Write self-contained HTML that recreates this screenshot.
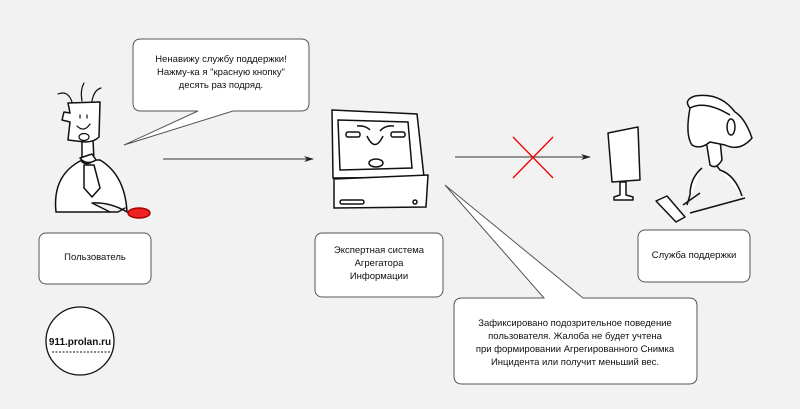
<!DOCTYPE html>
<html><head><meta charset="utf-8"><style>
html,body{margin:0;padding:0;background:#f2f2f2;}
body{width:800px;height:409px;overflow:hidden;position:relative;font-family:"Liberation Sans",sans-serif;}
svg{position:absolute;left:0;top:0;}
text{font-family:"Liberation Sans",sans-serif;font-size:9.5px;fill:#111;text-anchor:middle;}
</style></head><body>
<svg width="800" height="409" viewBox="0 0 800 409">
<defs><marker id="a" markerWidth="10" markerHeight="8" refX="9" refY="4" orient="auto"><path d="M0,1 L10,4 L0,7 L3,4z" fill="#222"/></marker></defs>
<g fill="#fff" stroke="#555" stroke-width="1">
<path d="M141,39 H301 Q309,39 309,47 V103 Q309,111 301,111 H233 L124,145 L198,111 H141 Q133,111 133,103 V47 Q133,39 141,39 Z"/>
<path d="M462,298 H544 L445,185 L583,298 H689 Q697,298 697,306 V376 Q697,384 689,384 H462 Q454,384 454,376 V306 Q454,298 462,298 Z"/>
<rect x="39" y="233" width="112" height="51" rx="7"/>
<rect x="315" y="233" width="128" height="64" rx="7"/>
<rect x="638" y="230" width="112" height="52" rx="7"/>
</g>
<ellipse cx="80" cy="341" rx="34" ry="34" fill="#fff" stroke="#111" stroke-width="1.3"/>
<text x="80" y="345" style="font-size:10px;font-weight:bold">911.prolan.ru</text>
<line x1="52" y1="352" x2="110" y2="352" stroke="#111" stroke-dasharray="2,1.5"/>
<line x1="163" y1="159" x2="313" y2="159" stroke="#333" marker-end="url(#a)"/>
<line x1="455" y1="157" x2="590" y2="157" stroke="#333" marker-end="url(#a)"/>
<line x1="513" y1="137" x2="553" y2="178" stroke="#e00" stroke-width="1.3"/>
<line x1="553" y1="137" x2="513" y2="178" stroke="#e00" stroke-width="1.3"/>
<!-- person -->
<g fill="#fff" stroke="#111" stroke-width="1.5" stroke-linecap="round" stroke-linejoin="round">
<path d="M56,212 Q52,175 82,160 L100,160 Q125,175 127,212 Q110,202 92,203 L110,212 Q80,212 56,212Z"/>
<path d="M82,140 L82,162 Q88,166 94,160 L93,140"/>
<path d="M68,103 L100,102 L99,137 Q94,142 85,142 L68,140 L70,122 L62,120 L64,112 L70,113 Z"/>
<path d="M84,165 L84,188 L92,197 L100,188 L94,165 Z"/>
<path d="M80,158 Q86,166 96,160 L92,154 Z"/>
<ellipse cx="139" cy="213" rx="11" ry="5" fill="#e22" stroke="#a00"/>
<path d="M110,212 L118,212 L125,208" fill="none"/>
</g>
<g fill="none" stroke="#111" stroke-width="1.2" stroke-linecap="round"><path d="M72,102 Q68,90 58,94 M82,101 Q80,90 84,83 M92,101 Q94,90 101,88"/><path d="M77,126 Q84,133 90,124"/><line x1="80" y1="115" x2="80" y2="118"/><line x1="87" y1="115" x2="87" y2="118"/><ellipse cx="84" cy="137" rx="5" ry="3.5"/></g>
<!-- computer -->
<g fill="#fff" stroke="#111" stroke-width="1.5">
<path d="M332,110 L417,114 L424,177 L333,178 Z"/>
<path d="M338,120 L408,122 L412,168 L340,170 Z"/>
<path d="M334,179 L428,175 L426,207 L334,208 Z"/>
<rect x="340" y="200" width="24" height="4" rx="2"/>
<ellipse cx="376" cy="163" rx="7" ry="4"/>
<path d="M367,136 Q375,153 383,136" fill="none"/>
<rect x="346" y="132" width="14" height="5" rx="2"/><rect x="391" y="132" width="14" height="5" rx="2"/>
<path d="M357,126 Q365,125 370,130 M380,131 Q385,125 394,126" fill="none"/>
<circle cx="415" cy="202" r="2"/>
</g>
<!-- support -->
<g fill="#fff" stroke="#111" stroke-width="1.5" stroke-linejoin="round">
<path d="M608,133 L638,127 L640,180 L612,182 Z"/>
<path d="M620,182 L626,182 L626,195 L633,197 L633,200 L614,200 L614,197 L620,195 Z"/>
<path d="M702,168 Q690,178 690,195 L687,205 M742,196 Q735,175 720,170 L716,165"/>
<path d="M683,205 L700,193 M690,213 L745,198"/>
<path d="M706,140 L710,165 Q716,170 722,160 L720,140"/>
<path d="M690,108 Q685,135 692,145 Q700,150 710,142 L725,145 Q740,152 752,138 Q745,118 735,112 Q720,92 695,96 Q683,100 690,108 Z"/>
<path d="M690,108 Q705,100 730,115" fill="none"/>
<path d="M656,201 L667,196 L685,217 L676,222 Z"/>
<ellipse cx="731" cy="127" rx="4" ry="8"/>
</g>
<g text-rendering="geometricPrecision">
<text x="221" y="62">Ненавижу службу поддержки!</text>
<text x="221" y="75">Нажму-ка я "красную кнопку"</text>
<text x="221" y="88">десять раз подряд.</text>
<text x="95" y="260">Пользователь</text>
<text x="379" y="253">Экспертная система</text>
<text x="379" y="266">Агрегатора</text>
<text x="379" y="279">Информации</text>
<text x="694" y="258">Служба поддержки</text>
<text x="575" y="326">Зафиксировано подозрительное поведение</text>
<text x="575" y="339">пользователя. Жалоба не будет учтена</text>
<text x="575" y="352">при формировании Агрегированного Снимка</text>
<text x="575" y="365">Инцидента или получит меньший вес.</text>
</g>
</svg>
</body></html>
